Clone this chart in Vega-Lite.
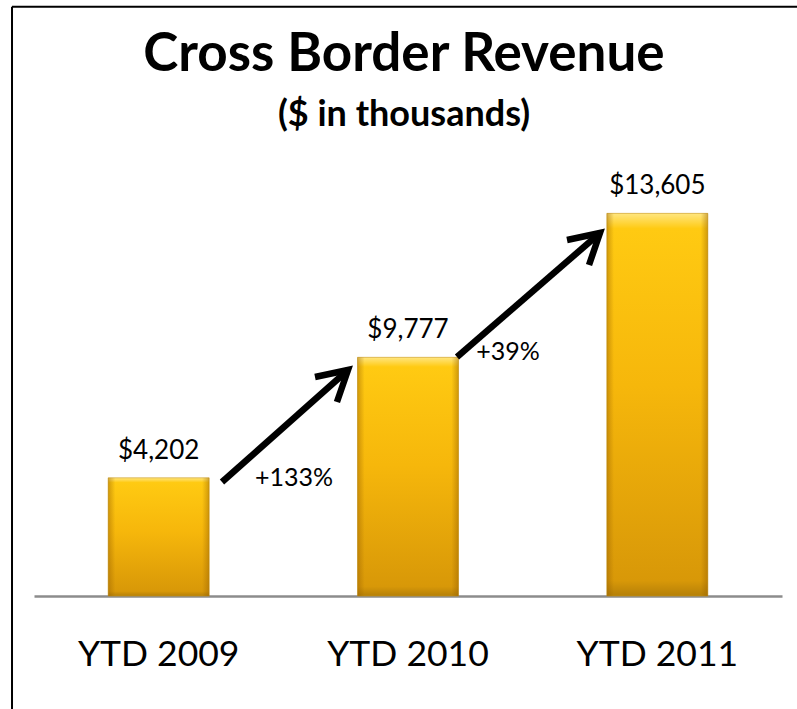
{
  "$schema": "https://vega.github.io/schema/vega-lite/v6.json",
  "width": 748,
  "height": 450,
  "autosize": {"type": "none"},
  "padding": {"left": 34, "top": 146, "right": 15, "bottom": 113},
  "background": "white",
  "title": {
    "text": "Cross Border Revenue",
    "subtitle": "($ in thousands)",
    "font": "Lato",
    "fontSize": 53,
    "fontWeight": "bold",
    "color": "#000000",
    "subtitleFont": "Lato",
    "subtitleFontSize": 36,
    "subtitleFontWeight": "bold",
    "subtitleColor": "#000000",
    "subtitlePadding": 16,
    "anchor": "middle",
    "frame": "group",
    "offset": -127.5,
    "dx": -4
  },
  "datasets": {
    "bars": [
      {"period": "YTD 2009", "revenue": 4202, "plotted": 4202, "label": "$4,202"},
      {"period": "YTD 2010", "revenue": 9777, "plotted": 8486, "label": "$9,777"},
      {"period": "YTD 2011", "revenue": 13605, "plotted": 13605, "label": "$13,605"}
    ],
    "arrows": [
      {"seg": "a1 shaft", "k": 0, "u": 0.754, "v": 4053},
      {"seg": "a1 shaft", "k": 1, "u": 1.2594, "v": 8036},
      {"seg": "a1 head", "k": 0, "u": 1.127, "v": 7787},
      {"seg": "a1 head", "k": 1, "u": 1.2594, "v": 8036},
      {"seg": "a1 head", "k": 2, "u": 1.215, "v": 6898},
      {"seg": "a2 shaft", "k": 0, "u": 1.6965, "v": 8498},
      {"seg": "a2 shaft", "k": 1, "u": 2.27, "v": 12907},
      {"seg": "a2 head", "k": 0, "u": 2.1377, "v": 12658},
      {"seg": "a2 head", "k": 1, "u": 2.27, "v": 12907},
      {"seg": "a2 head", "k": 2, "u": 2.226, "v": 11769}
    ],
    "growth": [
      {"u": 1.043, "v": 4178, "text": "+133%"},
      {"u": 1.901, "v": 8676, "text": "+39%"}
    ],
    "frame": [{}]
  },
  "layer": [
    {
      "data": {"name": "bars"},
      "encoding": {
        "x": {
          "field": "period",
          "type": "nominal",
          "sort": null,
          "scale": {"paddingInner": 0.595, "paddingOuter": 0.2975},
          "axis": {
            "title": null,
            "labelFont": "Lato",
            "labelFontSize": 35.5,
            "labelColor": "#000000",
            "labelAngle": 0,
            "labelBaseline": "top",
            "labelPadding": 41,
            "ticks": false,
            "domainColor": "#8c8c8c",
            "domainWidth": 2.5,
            "grid": false
          }
        },
        "y": {
          "field": "plotted",
          "type": "quantitative",
          "scale": {"domain": [0, 16000], "nice": false},
          "axis": null
        }
      },
      "layer": [
        {
          "mark": {
            "type": "bar",
            "stroke": "#c8961a",
            "strokeWidth": 0.6,
            "color": {
              "gradient": "linear",
              "x1": 0, "y1": 0, "x2": 0, "y2": 1,
              "stops": [
                {"offset": 0, "color": "#ffe680"},
                {"offset": 0.04, "color": "#ffca12"},
                {"offset": 0.45, "color": "#f6b70b"},
                {"offset": 0.96, "color": "#d89808"},
                {"offset": 1, "color": "#b58008"}
              ]
            }
          }
        },
        {
          "mark": {
            "type": "bar",
            "color": {
              "gradient": "linear",
              "x1": 0, "y1": 0, "x2": 1, "y2": 0,
              "stops": [
                {"offset": 0, "color": "rgba(150,95,0,0.45)"},
                {"offset": 0.07, "color": "rgba(150,95,0,0)"},
                {"offset": 0.93, "color": "rgba(150,95,0,0)"},
                {"offset": 1, "color": "rgba(150,95,0,0.45)"}
              ]
            }
          }
        },
        {
          "mark": {
            "type": "text",
            "font": "Lato",
            "fontSize": 26,
            "baseline": "alphabetic",
            "dy": -19,
            "color": "#000000"
          },
          "encoding": {"text": {"field": "label"}}
        }
      ]
    },
    {
      "encoding": {},
      "layer": [
        {
          "data": {"name": "arrows"},
          "mark": {"type": "line", "color": "#000000", "strokeWidth": 6.5, "strokeCap": "butt", "strokeJoin": "miter", "clip": false},
          "encoding": {
            "x": {"field": "u", "type": "quantitative", "scale": {"domain": [0, 3], "nice": false, "zero": false}, "axis": null},
            "y": {"field": "v", "type": "quantitative", "scale": {"domain": [0, 16000], "nice": false}, "axis": null},
            "detail": {"field": "seg"},
            "order": {"field": "k"}
          }
        },
        {
          "data": {"name": "growth"},
          "mark": {"type": "text", "font": "Lato", "fontSize": 25, "baseline": "middle", "align": "center", "color": "#000000"},
          "encoding": {
            "x": {"field": "u", "type": "quantitative", "scale": {"domain": [0, 3], "nice": false, "zero": false}, "axis": null},
            "y": {"field": "v", "type": "quantitative", "scale": {"domain": [0, 16000], "nice": false}, "axis": null},
            "text": {"field": "text"}
          }
        },
        {
          "data": {"name": "frame"},
          "mark": {"type": "rule", "color": "#000000", "strokeWidth": 2, "clip": false},
          "encoding": {
            "x": {"datum": -0.0882, "type": "quantitative", "scale": {"domain": [0, 3], "nice": false, "zero": false}, "axis": null},
            "y": {"datum": 20953, "type": "quantitative", "scale": {"domain": [0, 16000], "nice": false}, "axis": null},
            "y2": {"datum": -4500}
          }
        },
        {
          "data": {"name": "frame"},
          "mark": {"type": "rule", "color": "#000000", "strokeWidth": 2, "clip": false},
          "encoding": {
            "x": {"datum": -0.0882, "type": "quantitative", "scale": {"domain": [0, 3], "nice": false, "zero": false}, "axis": null},
            "x2": {"datum": 3.2},
            "y": {"datum": 20953, "type": "quantitative", "scale": {"domain": [0, 16000], "nice": false}, "axis": null}
          }
        }
      ]
    }
  ],
  "resolve": {"scale": {"x": "independent"}},
  "config": {"view": {"stroke": null}}
}
